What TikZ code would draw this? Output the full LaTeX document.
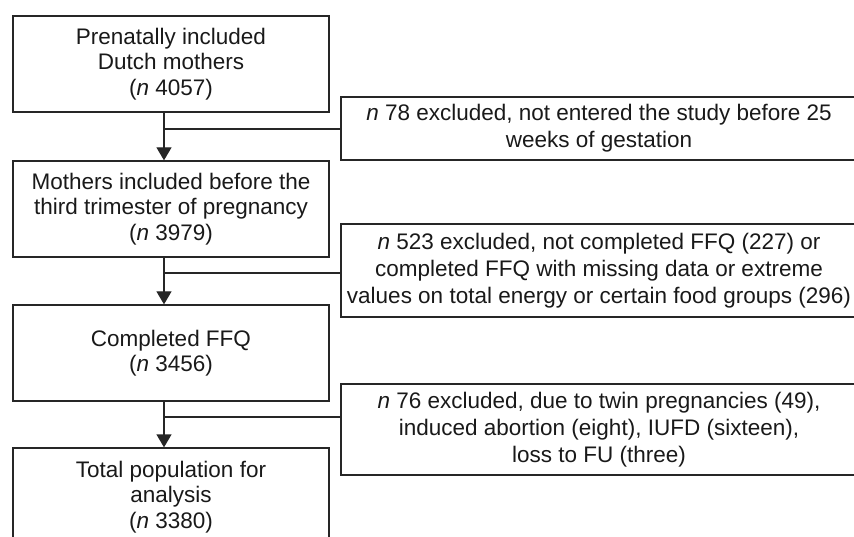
\documentclass[tikz,border=0pt]{standalone}
\usepackage{fontspec}
\setmainfont{Liberation Sans}
\usetikzlibrary{arrows.meta}
\begin{document}
\begin{tikzpicture}[x=1pt,y=-1pt,
  every node/.style={text=black!90},
  mainbox/.style={draw=black!85, line width=1.3pt, minimum width=316pt, inner sep=0pt, align=center, font=\fontsize{22.5}{25.5}\selectfont},
  sidebox/.style={draw=black!85, line width=1.3pt, minimum width=516pt, inner sep=0pt, align=center, font=\fontsize{22.5}{27}\selectfont},
  flow/.style={draw=black!85, line width=1.3pt},
  arrowline/.style={flow, -{Triangle[width=15pt,length=13pt]}}]
\useasboundingbox (0,0) rectangle (854,537);
\clip (0,0) rectangle (854,537);
\node[mainbox, minimum height=96pt] (b1) at (171,64) {Prenatally included\\Dutch mothers\\(\textit{n} 4057)};
\node[mainbox, minimum height=96pt] (b2) at (171,209) {Mothers included before the\\third trimester of pregnancy\\(\textit{n} 3979)};
\node[mainbox, minimum height=96pt] (b3) at (171,353) {Completed FFQ\\(\textit{n} 3456)};
\node[mainbox, minimum height=98pt] (b4) at (171,497) {Total population for\\analysis\\(\textit{n} 3380)};
\node[sidebox, minimum height=63pt] (r1) at (599,128.5) {\textit{n} 78 excluded, not entered the study before 25\\weeks of gestation};
\node[sidebox, minimum height=93pt] (r2) at (599,270.5) {\textit{n} 523 excluded, not completed FFQ (227) or\\completed FFQ with missing data or extreme\\values on total energy or certain food groups (296)};
\node[sidebox, minimum height=91pt] (r3) at (599,429.5) {\textit{n} 76 excluded, due to twin pregnancies (49),\\induced abortion (eight), IUFD (sixteen),\\loss to FU (three)};
\coordinate (sx) at (164,0);
\coordinate (j1) at (164,129);
\coordinate (j2) at (164,273);
\coordinate (j3) at (164,417);
\draw[arrowline] (b1.south -| sx) -- (b2.north -| sx);
\draw[arrowline] (b2.south -| sx) -- (b3.north -| sx);
\draw[arrowline] (b3.south -| sx) -- (b4.north -| sx);
\draw[flow] (j1) -- (j1 -| r1.west);
\draw[flow] (j2) -- (j2 -| r2.west);
\draw[flow] (j3) -- (j3 -| r3.west);
\end{tikzpicture}
\end{document}
